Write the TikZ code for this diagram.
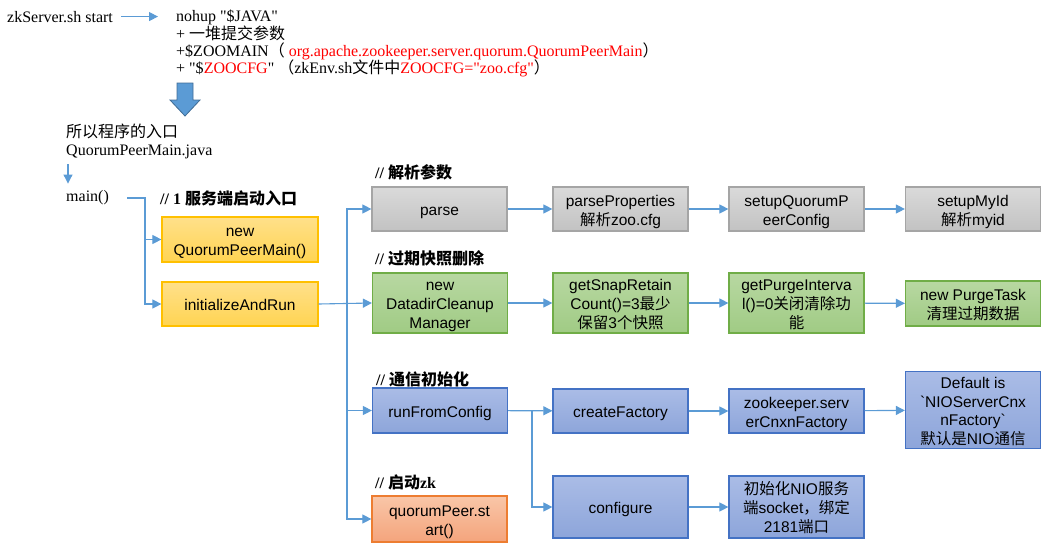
\documentclass[tikz,border=0pt]{standalone}
\usepackage{fontspec}
\setmainfont{Liberation Serif}[Ligatures=TeXOff]
\newfontfamily\boxfont{Liberation Sans}
\newfontfamily\cjk{Noto Sans CJK SC}
\usetikzlibrary{arrows.meta}
\definecolor{arrblue}{HTML}{5B9BD5}
\definecolor{zkred}{HTML}{FF0000}
\definecolor{grayTop}{HTML}{DADADA}
\definecolor{grayBot}{HTML}{C2C2C2}
\definecolor{grayLine}{HTML}{A5A5A5}
\definecolor{yellowTop}{HTML}{FFE08A}
\definecolor{yellowBot}{HTML}{FFD452}
\definecolor{yellowLine}{HTML}{FFC000}
\definecolor{greenTop}{HTML}{B8D8A2}
\definecolor{greenBot}{HTML}{A0CB84}
\definecolor{greenLine}{HTML}{70AD47}
\definecolor{blueTop}{HTML}{AABCE6}
\definecolor{blueBot}{HTML}{8DA5DA}
\definecolor{blueLine}{HTML}{4472C4}
\definecolor{orangeTop}{HTML}{F9C6A8}
\definecolor{orangeBot}{HTML}{F4A47C}
\definecolor{orangeLine}{HTML}{ED7D31}
\newcommand{\zh}[1]{{\cjk #1}}
\newcommand{\dq}{\symbol{34}}
% keeps box text a little below the middle
\newcommand{\bx}[1]{\rule{0pt}{16.5pt}#1\rule[-3.5pt]{0pt}{0pt}}
\newcommand{\boxtext}{\boxfont\fontsize{15.5}{19}\selectfont}
\newcommand{\plaintext}{\fontsize{16}{17.4}\selectfont}
\tikzset{
  arr/.style={draw=arrblue, line width=1.1pt, -{Triangle[length=9pt,width=9pt]}},
  box/.style={draw, line width=1.2pt, minimum width=135pt, inner sep=1pt,
    align=center, font=\boxtext},
  graybox/.style={box, draw=grayLine, top color=grayTop, bottom color=grayBot},
  yellowbox/.style={box, draw=yellowLine, top color=yellowTop, bottom color=yellowBot},
  greenbox/.style={box, draw=greenLine, top color=greenTop, bottom color=greenBot},
  bluebox/.style={box, draw=blueLine, top color=blueTop, bottom color=blueBot},
  orangebox/.style={box, draw=orangeLine, top color=orangeTop, bottom color=orangeBot},
  note/.style={inner sep=0pt, font=\plaintext},
  comment/.style={inner sep=0pt, anchor=west, font=\plaintext\bfseries}
}
\begin{document}
\begin{tikzpicture}[x=1pt,y=-1pt]
  \useasboundingbox (0,0) rectangle (1053,544);

  % start command
  \node[note, anchor=base west] (zks) at (7,22) {zkServer.sh start};
  \node[note, anchor=north west, align=left] (cmd) at (176,10)
  {nohup \dq\$JAVA\dq\\
   + \zh{一堆提交参数}\\
   +\$ZOOMAIN\zh{（} \textcolor{zkred}{org.apache.zookeeper.server.quorum.QuorumPeerMain}\zh{）}\\
   + \dq\$\textcolor{zkred}{ZOOCFG}\dq{} \zh{（}zkEnv.sh\zh{文件中}\textcolor{zkred}{ZOOCFG=\dq zoo.cfg\dq}\zh{）}};
  \draw[arr, shorten <=8pt, shorten >=18pt] (zks.east) -- (zks.east -| cmd.west);

  % big arrow
  \draw[fill=arrblue, draw=arrblue!70!black, line width=0.8pt]
  (177,83) -- (193,83) -- (193,100) -- (200,100) -- (185,116)
  -- (170,100) -- (177,100) -- cycle;

  % entry
  \node[note, anchor=north west, align=left, font=\fontsize{16}{18}\selectfont]
  (entry) at (66,124) {\zh{所以程序的入口}\\QuorumPeerMain.java};
  \node[note, anchor=west] (main) at (66,198) {main()};
  \draw[arr] ([xshift=2pt,yshift=-5pt]entry.south west)
  -- ([xshift=2pt,yshift=7pt]main.north west);

  \node[comment] (c1) at (160,198) {// 1 \zh{服务端启动入口}};
  \node[yellowbox, minimum height=45pt, minimum width=156pt] (qpm) at (240,239.5)
  {\bx{new\\QuorumPeerMain()}};
  \node[yellowbox, minimum height=44pt, minimum width=156pt] (initRun) at (240,304)
  {\bx{initializeAndRun}};

  \coordinate (mfork) at (145,0);
  \draw[arr, shorten <=18pt] (main.east) -- (main.east -| mfork) |- (qpm.west);
  \draw[arr] (main.east -| mfork) |- (initRun.west);

  % parse row
  \node[comment] (c2) at (375,172) {// \zh{解析参数}};
  \node[graybox, minimum height=44pt] (parse) at (439.5,209) {\bx{parse}};
  \node[graybox, minimum height=44pt] (parseProps) at (620.5,209)
  {\bx{parseProperties\\\zh{解析}zoo.cfg}};
  \node[graybox, minimum height=44pt] (setupQPC) at (796.5,209)
  {\bx{setupQuorumP\\eerConfig}};
  \node[graybox, minimum height=44pt] (setupMyId) at (973,209)
  {\bx{setupMyId\\\zh{解析}myid}};

  % purge row
  \node[comment] (c3) at (375,258) {// \zh{过期快照删除}};
  \node[greenbox, minimum height=60pt] (datadir) at (440,303)
  {\bx{new\\DatadirCleanup\\Manager}};
  \node[greenbox, minimum height=60pt] (getSnap) at (620.5,303)
  {\bx{getSnapRetain\\Count()=3\zh{最少}\\\zh{保留}3\zh{个快照}}};
  \node[greenbox, minimum height=60pt] (getPurge) at (796.5,303)
  {\bx{getPurgeInterva\\l()=0\zh{关闭清除功}\\\zh{能}}};
  \node[greenbox, minimum height=45pt] (purgeTask) at (973,303.5)
  {\bx{new PurgeTask\\\zh{清理过期数据}}};

  % network row
  \node[comment] (c4) at (376,379) {// \zh{通信初始化}};
  \node[bluebox, minimum height=45pt] (runCfg) at (440,410.5) {\bx{runFromConfig}};
  \node[bluebox, minimum height=44pt] (createFactory) at (620.5,411) {\bx{createFactory}};
  \node[bluebox, minimum height=44pt] (cnxnFactory) at (796.5,411)
  {\bx{zookeeper.serv\\erCnxnFactory}};
  \node[bluebox, minimum height=76pt, font=\boxfont\fontsize{15.5}{18.5}\selectfont]
  (defaultNio) at (973,410)
  {\bx{Default is\\\textasciigrave NIOServerCnx\\nFactory\textasciigrave\\\zh{默认是}NIO\zh{通信}}};
  \node[bluebox, minimum height=62pt] (configure) at (620.5,507) {\bx{configure}};
  \node[bluebox, minimum height=62pt] (initNio) at (796.5,507)
  {\bx{\zh{初始化}NIO\zh{服务}\\\zh{端}socket\zh{，绑定}\\2181\zh{端口}}};

  % start row
  \node[comment] (c5) at (375,482) {// \zh{启动}zk};
  \node[orangebox, minimum height=46pt] (qpStart) at (439.5,519)
  {\bx{quorumPeer.st\\art()}};

  % bus from initializeAndRun
  \coordinate (bus) at (347,0);
  \draw[arr] (initRun.east) -- (datadir.west);
  \draw[arr] (initRun.east -| bus) |- (parse.west);
  \draw[arr] (initRun.east -| bus) |- (runCfg.west);
  \draw[arr] (initRun.east -| bus) |- (qpStart.west);

  \draw[arr] (parse) -- (parseProps);
  \draw[arr] (parseProps) -- (setupQPC);
  \draw[arr] (setupQPC) -- (setupMyId);

  \draw[arr] (datadir) -- (getSnap);
  \draw[arr] (getSnap) -- (getPurge);
  \draw[arr] (getPurge) -- (purgeTask);

  \coordinate (rfork) at (532,0);
  \draw[arr] (runCfg) -- (createFactory);
  \draw[arr] (runCfg.east -| rfork) |- (configure.west);
  \draw[arr] (createFactory) -- (cnxnFactory);
  \draw[arr] (cnxnFactory) -- (defaultNio);
  \draw[arr] (configure) -- (initNio);
\end{tikzpicture}
\end{document}
